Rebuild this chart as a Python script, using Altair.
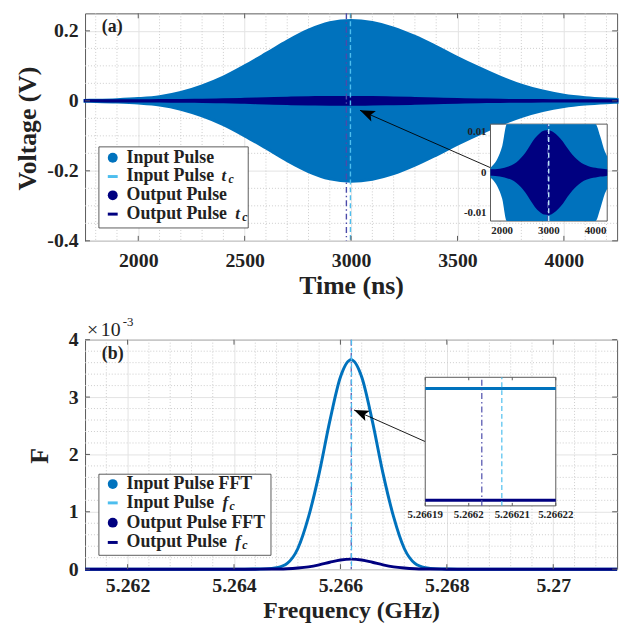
import altair as alt
import pandas as pd

FONT = "Liberation Serif"
BLUE = "#0072BD"
NAVY = "#000080"
SKY = "#4DBEEE"
PURPLE = "#4B4BAA"
TXT = "#222222"
FRAME = "#5a5a5a"
GRID_MAJOR = "#e3e3e3"
GRID_MINOR = "#cccccc"

W, HA, HB = 538, 230, 232

# ---------------- panel (a): time domain ----------------
time_ns = [1750, 1800, 1900, 2000, 2100, 2200, 2300, 2400, 2500, 2600, 2700, 2800, 2900, 3000,
           3100, 3200, 3300, 3400, 3500, 3600, 3700, 3800, 3900, 4000, 4100, 4200, 4250]
input_env_v = [0.0012, 0.0018, 0.0035, 0.0065, 0.012, 0.024, 0.043, 0.068, 0.100, 0.135, 0.171, 0.202, 0.223, 0.230,
               0.224, 0.208, 0.184, 0.155, 0.124, 0.095, 0.068, 0.045, 0.028, 0.016, 0.0090, 0.0052, 0.0040]
output_env_v = [0.0008, 0.0008, 0.0009, 0.0011, 0.0014, 0.0018, 0.0025, 0.0036, 0.0050, 0.0068, 0.0085, 0.0097, 0.0104, 0.0105,
                0.0100, 0.0090, 0.0077, 0.0060, 0.0045, 0.0033, 0.0024, 0.0018, 0.0014, 0.0012, 0.0010, 0.0009, 0.0008]
tc_input_ns = [2997]
tc_output_ns = [2978]

a_xticks = [2000, 2500, 3000, 3500, 4000]
a_yticks = [-0.4, -0.2, 0.0, 0.2]
a_xminor = [1800, 1900, 2100, 2200, 2300, 2400, 2600, 2700, 2800, 2900, 3100, 3200, 3300, 3400,
            3600, 3700, 3800, 3900, 4100, 4200]
a_yminor = [-0.35, -0.3, -0.25, -0.15, -0.1, -0.05, 0.05, 0.1, 0.15]

inset_a_xticks = [2000, 3000, 4000]
inset_a_xlabels = ["2000", "3000", "4000"]
inset_a_yticks = [-0.01, 0.0, 0.01]
inset_a_ylabels = ["-0.01", "0", "0.01"]

# arrow (a) in data units: tail -> tip
arrow_a_t = [3655, 3042]
arrow_a_v = [-0.191, -0.027]

# ---------------- panel (b): spectrum ----------------
freq_ghz = [5.2612, 5.2622, 5.2632, 5.2642, 5.2644, 5.2646, 5.2648, 5.2650, 5.2652, 5.2654, 5.2656, 5.2658,
            5.2660, 5.2662, 5.2664, 5.2666, 5.2668, 5.2670, 5.2672, 5.2674, 5.2676, 5.2678, 5.2680, 5.2682,
            5.2692, 5.2702, 5.2712]
input_fft = [0, 0, 0, 0, 0.000002, 0.000005, 0.000025, 0.00010, 0.00036, 0.00091, 0.00167, 0.00258,
             0.00335, 0.00365, 0.00335, 0.00258, 0.00167, 0.00091, 0.00036, 0.00010, 0.000025, 0.000005, 0.000002, 0,
             0, 0, 0]
output_fft = [0, 0, 0, 0, 0, 0.000001, 0.000003, 0.000008, 0.00002, 0.00004, 0.000075, 0.00012,
              0.00016, 0.000175, 0.00016, 0.00012, 0.000075, 0.00004, 0.00002, 0.000008, 0.000003, 0.000001, 0, 0,
              0, 0, 0]
fc_input_ghz = [5.2662076]
fc_output_ghz = [5.2662030]

inset_freq_ghz = [5.26619, 5.26622]
inset_input_fft = [0.00365, 0.00365]
inset_output_fft = [0.000175, 0.000175]

b_xticks = [5.262, 5.264, 5.266, 5.268, 5.270]
b_yticks = [0.0, 0.001, 0.002, 0.003, 0.004]
b_xminor = [5.2616, 5.2624, 5.2628, 5.2632, 5.2636, 5.2644, 5.2648, 5.2652, 5.2656, 5.2664, 5.2668,
            5.2672, 5.2676, 5.2684, 5.2688, 5.2692, 5.2696, 5.2704, 5.2708]
b_yminor = [0.0002, 0.0004, 0.0006, 0.0008, 0.0012, 0.0014, 0.0016, 0.0018, 0.0022, 0.0024, 0.0026,
            0.0028, 0.0032, 0.0034, 0.0036, 0.0038]

inset_b_xticks = [5.26619, 5.2662, 5.26621, 5.26622]
inset_b_xlabels = ["5.26619", "5.2662", "5.26621", "5.26622"]

arrow_b_f = [5.267594, 5.266256]
arrow_b_v = [0.002224, 0.002776]

ARROW = "M0,0L-0.38,1L0,0.78L0.38,1Z"
ONE = pd.DataFrame({"k": [0]})
LEG_SIZE = 18


def text(txt, x, y, size=18, weight="bold", style="normal", align="left", color=TXT):
    return alt.Chart(ONE).mark_text(text=txt, align=align, baseline="middle", font=FONT, fontSize=size,
                                    fontWeight=weight, fontStyle=style, color=color).encode(
        x=alt.value(x), y=alt.value(y))


def axis(values, expr, title, pad, title_x=None, title_y=None, title_size=26):
    kw = dict(values=values, labelExpr=expr, title=title, grid=True, gridColor=GRID_MAJOR, gridWidth=1,
              ticks=False, tickSize=0, domain=False, labelFont=FONT, labelFontSize=20, labelFontWeight="bold",
              labelColor=TXT, labelPadding=pad, labelFlush=False, labelOverlap=False,
              titleFont=FONT, titleFontSize=title_size, titleFontWeight="bold", titleColor=TXT,
              titleBaseline="alphabetic")
    if title_x is not None:
        kw["titleX"] = title_x
    if title_y is not None:
        kw["titleY"] = title_y
    return alt.Axis(**kw)


def legend(items, box):
    x0, x1, y0, y1 = box
    out = [alt.Chart(ONE).mark_rect(fill="white", stroke="#333333", strokeWidth=0.8).encode(
        x=alt.value(x0), x2=alt.value(x1), y=alt.value(y0), y2=alt.value(y1))]
    for lab, sym, col, y, sub in items:
        if sym == "circle":
            out.append(alt.Chart(ONE).mark_point(shape="circle", filled=True, size=100, color=col, opacity=1).encode(
                x=alt.value(28), y=alt.value(y)))
        else:
            out.append(alt.Chart(ONE).mark_rule(color=col, strokeWidth=3).encode(
                x=alt.value(23), x2=alt.value(33), y=alt.value(y)))
        out.append(text(lab, 42, y, size=LEG_SIZE))
        if sub is not None:
            letter, xs = sub
            out.append(text(letter, xs, y, size=17, style="italic"))
            out.append(text("c", xs + 7, y + 3, size=12, style="italic"))
    return out


def inward_ticks(xfield_fn, yfield_fn, xt, yt, w, h, n=5):
    dx = pd.DataFrame({"p": xt})
    dy = pd.DataFrame({"p": yt})
    return [
        alt.Chart(dx).mark_rule(color=FRAME).encode(x=xfield_fn("p"), y=alt.value(0), y2=alt.value(n)),
        alt.Chart(dx).mark_rule(color=FRAME).encode(x=xfield_fn("p"), y=alt.value(h), y2=alt.value(h - n)),
        alt.Chart(dy).mark_rule(color=FRAME).encode(y=yfield_fn("p"), x=alt.value(0), x2=alt.value(n)),
        alt.Chart(dy).mark_rule(color=FRAME).encode(y=yfield_fn("p"), x=alt.value(w), x2=alt.value(w - n)),
    ]


# ======================= PANEL (a) =======================
pulse = pd.DataFrame({
    "t": time_ns,
    "in_hi": input_env_v, "in_lo": [-v for v in input_env_v],
    "out_hi": output_env_v, "out_lo": [-v for v in output_env_v],
})

xa = alt.Scale(domain=[1750, 4250], nice=False, zero=False)
ya = alt.Scale(domain=[-0.4, 0.25], nice=False, zero=False)
AXA = axis(a_xticks, "format(datum.value, 'd')", "Time (ns)", 10, title_y=53)
AYA = axis(a_yticks,
           "(datum.value < 0 ? '-' : '') + (datum.value == 0 ? '0' : format(abs(datum.value), '.1f'))",
           "Voltage (V)", 7, title_x=-50, title_y=116)


def XA(f):
    return alt.X(f, type="quantitative", scale=xa, axis=AXA)


def YA(f):
    return alt.Y(f, type="quantitative", scale=ya, axis=AYA)


arrow_a = pd.DataFrame({"t0": [arrow_a_t[0]], "v0": [arrow_a_v[0]], "t1": [arrow_a_t[1]], "v1": [arrow_a_v[1]]})

main_a_layers = [
    alt.Chart(pd.DataFrame({"t": a_xminor})).mark_rule(color=GRID_MINOR, strokeDash=[1, 2]).encode(x=XA("t")),
    alt.Chart(pd.DataFrame({"v": a_yminor})).mark_rule(color=GRID_MINOR, strokeDash=[1, 2]).encode(y=YA("v")),
    alt.Chart(pulse).mark_area(color=BLUE, stroke=BLUE, strokeWidth=3, interpolate="monotone").encode(
        x=XA("t"), y=YA("in_lo"), y2="in_hi"),
    alt.Chart(pulse).mark_area(color=NAVY, stroke=NAVY, strokeWidth=2.5, interpolate="monotone").encode(
        x=XA("t"), y=YA("out_lo"), y2="out_hi"),
    alt.Chart(pd.DataFrame({"t": tc_output_ns})).mark_rule(color=PURPLE, strokeWidth=1.4,
                                                           strokeDash=[6, 3, 1.5, 3]).encode(x=XA("t")),
    alt.Chart(pd.DataFrame({"t": tc_input_ns})).mark_rule(color=SKY, strokeWidth=1.4,
                                                          strokeDash=[5, 3]).encode(x=XA("t")),
    alt.Chart(arrow_a).mark_rule(color="black", strokeWidth=0.9).encode(
        x=XA("t0"), y=YA("v0"), x2="t1", y2="v1"),
    alt.Chart(arrow_a).mark_point(shape=ARROW, filled=True, color="black", opacity=1, size=900,
                                  angle=293.7).encode(x=XA("t1"), y=YA("v1")),
]
main_a_layers += inward_ticks(XA, YA, a_xticks, a_yticks, W, HA)
main_a_layers += legend([
    ("Input Pulse", "circle", BLUE, 146, None),
    ("Input Pulse", "line", SKY, 165, ("t", 138)),
    ("Output Pulse", "circle", NAVY, 184, None),
    ("Output Pulse", "line", NAVY, 203, ("t", 152)),
], (14, 165, 135, 217))
main_a_layers.append(text("(a)", 17, 14))

# inset (a)
xia = alt.Scale(domain=[1750, 4250], range=[410, 528], nice=False, zero=False)
yia = alt.Scale(domain=[-0.012, 0.012], range=[210, 112], nice=False, zero=False, clamp=True)


def XIA(f):
    return alt.X(f, type="quantitative", scale=xia, axis=None)


def YIA(f):
    return alt.Y(f, type="quantitative", scale=yia, axis=None)


frame_a = pd.DataFrame({"x0": [1750], "x1": [4250], "y0": [-0.012], "y1": [0.012]})
inset_a_layers = [
    alt.Chart(frame_a).mark_rect(fill="white", stroke=FRAME, strokeWidth=1).encode(
        x=XIA("x0"), x2="x1", y=YIA("y0"), y2="y1"),
    alt.Chart(pulse).mark_area(color=BLUE, interpolate="monotone").encode(
        x=XIA("t"), y=YIA("in_lo"), y2="in_hi"),
    alt.Chart(pulse).mark_area(color=NAVY, interpolate="monotone").encode(
        x=XIA("t"), y=YIA("out_lo"), y2="out_hi"),
    alt.Chart(pd.DataFrame({"t": tc_output_ns, "y0": [-0.012], "y1": [0.012]})).mark_rule(
        color=PURPLE, strokeWidth=1.2, strokeDash=[6, 3, 1.5, 3]).encode(x=XIA("t"), y=YIA("y0"), y2="y1"),
    alt.Chart(pd.DataFrame({"t": tc_input_ns, "y0": [-0.012], "y1": [0.012]})).mark_rule(
        color="#BFE8FA", strokeWidth=1.4, strokeDash=[5, 3]).encode(x=XIA("t"), y=YIA("y0"), y2="y1"),
    alt.Chart(pd.DataFrame({"v": inset_a_xticks, "lab": inset_a_xlabels})).mark_text(
        font=FONT, fontSize=11, fontWeight="bold", color=TXT, baseline="middle").encode(
        x=XIA("v"), y=alt.value(220), text="lab:N"),
    alt.Chart(pd.DataFrame({"v": inset_a_yticks, "lab": inset_a_ylabels})).mark_text(
        font=FONT, fontSize=11, fontWeight="bold", color=TXT, baseline="middle", align="right").encode(
        y=YIA("v"), x=alt.value(406), text="lab:N"),
]

panel_a = alt.layer(alt.layer(*main_a_layers), alt.layer(*inset_a_layers)).resolve_scale(
    x="independent", y="independent").properties(width=W, height=HA)

# ======================= PANEL (b) =======================
spec = pd.DataFrame({"f": freq_ghz, "inp": input_fft, "out": output_fft})
xb = alt.Scale(domain=[5.2612, 5.2712], nice=False, zero=False)
yb = alt.Scale(domain=[0, 0.004], nice=False, zero=False)
AXB = axis(b_xticks, "format(datum.value, '.3~f')", "Frequency (GHz)", 7, title_y=49, title_size=24)
AYB = axis(b_yticks, "'' + round(datum.value * 1000)", "F", 7, title_x=-38, title_y=117)


def XB(f):
    return alt.X(f, type="quantitative", scale=xb, axis=AXB)


def YB(f):
    return alt.Y(f, type="quantitative", scale=yb, axis=AYB)


arrow_b = pd.DataFrame({"f0": [arrow_b_f[0]], "v0": [arrow_b_v[0]], "f1": [arrow_b_f[1]], "v1": [arrow_b_v[1]]})

main_b_layers = [
    alt.Chart(pd.DataFrame({"f": b_xminor})).mark_rule(color=GRID_MINOR, strokeDash=[1, 2]).encode(x=XB("f")),
    alt.Chart(pd.DataFrame({"v": b_yminor})).mark_rule(color=GRID_MINOR, strokeDash=[1, 2]).encode(y=YB("v")),
    alt.Chart(spec).mark_line(color=BLUE, strokeWidth=3, interpolate="monotone").encode(x=XB("f"), y=YB("inp")),
    alt.Chart(spec).mark_line(color=NAVY, strokeWidth=3, interpolate="monotone").encode(x=XB("f"), y=YB("out")),
    alt.Chart(pd.DataFrame({"f": fc_output_ghz})).mark_rule(color=PURPLE, strokeWidth=1.2,
                                                            strokeDash=[6, 3, 1.5, 3]).encode(x=XB("f")),
    alt.Chart(pd.DataFrame({"f": fc_input_ghz})).mark_rule(color=SKY, strokeWidth=1.3,
                                                           strokeDash=[5, 3]).encode(x=XB("f")),
    alt.Chart(arrow_b).mark_rule(color="black", strokeWidth=0.9).encode(
        x=XB("f0"), y=YB("v0"), x2="f1", y2="v1"),
    alt.Chart(arrow_b).mark_point(shape=ARROW, filled=True, color="black", opacity=1, size=900,
                                  angle=293.8).encode(x=XB("f1"), y=YB("v1")),
]
main_b_layers += inward_ticks(XB, YB, b_xticks, b_yticks, W, HB)
main_b_layers += legend([
    ("Input Pulse FFT", "circle", BLUE, 146, None),
    ("Input Pulse", "line", SKY, 165, ("f", 139)),
    ("Output Pulse FFT", "circle", NAVY, 185, None),
    ("Output Pulse", "line", NAVY, 205, ("f", 152)),
], (14, 188, 136, 218))
main_b_layers.append(text("(b)", 17, 14))
main_b_layers.append(text("\u00d7", 2, -10, size=20, weight="normal"))
main_b_layers.append(text("10", 16, -10, size=20, weight="normal"))
main_b_layers.append(text("-3", 38, -18, size=13, weight="normal"))

# inset (b)
xib = alt.Scale(domain=[5.26619, 5.26622], range=[344, 476], nice=False, zero=False)
yib = alt.Scale(domain=[0, 0.004], range=[168, 38], nice=False, zero=False, clamp=True)


def XIB(f):
    return alt.X(f, type="quantitative", scale=xib, axis=None)


def YIB(f):
    return alt.Y(f, type="quantitative", scale=yib, axis=None)


frame_b = pd.DataFrame({"x0": [5.26619], "x1": [5.26622], "y0": [0.0], "y1": [0.004]})
inset_spec = pd.DataFrame({"f": inset_freq_ghz, "inp": inset_input_fft, "out": inset_output_fft})
inset_b_layers = [
    alt.Chart(frame_b).mark_rect(fill="white", stroke=FRAME, strokeWidth=1).encode(
        x=XIB("x0"), x2="x1", y=YIB("y0"), y2="y1"),
    alt.Chart(inset_spec).mark_line(color=BLUE, strokeWidth=3).encode(x=XIB("f"), y=YIB("inp")),
    alt.Chart(inset_spec).mark_line(color=NAVY, strokeWidth=3).encode(x=XIB("f"), y=YIB("out")),
    alt.Chart(pd.DataFrame({"f": fc_output_ghz, "y0": [0.0], "y1": [0.004]})).mark_rule(
        color=PURPLE, strokeWidth=1.2, strokeDash=[6, 3, 1.5, 3]).encode(x=XIB("f"), y=YIB("y0"), y2="y1"),
    alt.Chart(pd.DataFrame({"f": fc_input_ghz, "y0": [0.0], "y1": [0.004]})).mark_rule(
        color=SKY, strokeWidth=1.2, strokeDash=[5, 3]).encode(x=XIB("f"), y=YIB("y0"), y2="y1"),
    alt.Chart(pd.DataFrame({"f": inset_b_xticks})).mark_rule(color=FRAME).encode(
        x=XIB("f"), y=alt.value(38), y2=alt.value(41)),
    alt.Chart(pd.DataFrame({"f": inset_b_xticks})).mark_rule(color=FRAME).encode(
        x=XIB("f"), y=alt.value(168), y2=alt.value(165)),
    alt.Chart(pd.DataFrame({"v": inset_b_xticks, "lab": inset_b_xlabels})).mark_text(
        font=FONT, fontSize=11, fontWeight="bold", color=TXT, baseline="middle").encode(
        x=XIB("v"), y=alt.value(177), text="lab:N"),
]

panel_b = alt.layer(alt.layer(*main_b_layers), alt.layer(*inset_b_layers)).resolve_scale(
    x="independent", y="independent").properties(width=W, height=HB)

chart = alt.vconcat(panel_a, panel_b, spacing=16).properties(
    padding={"left": 14, "top": 8, "right": 2, "bottom": 2}, background="white"
).configure_view(stroke=FRAME, strokeWidth=1)

chart.save("out.html", embed_options={"renderer": "svg", "actions": False})
